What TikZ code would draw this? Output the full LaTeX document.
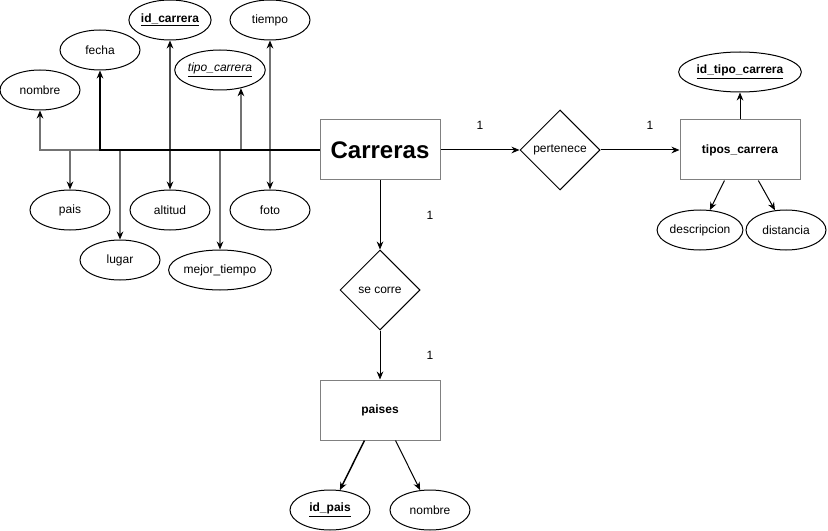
\documentclass[tikz,border=0pt]{standalone}
\usepackage{fontspec}
\setmainfont{Liberation Sans}
\usetikzlibrary{arrows.meta,positioning,shapes.geometric}

\begin{document}
\fontsize{9}{11}\selectfont
\begin{tikzpicture}[x=0.75pt, y=-0.75pt, >={Stealth[length=6pt, width=5pt, color=black]},
    attr/.style={ellipse, draw, line width=0.75pt, minimum width=60pt, minimum height=30pt, inner sep=0pt},
    entity/.style={rectangle, draw=gray, line width=0.75pt, minimum width=90pt, minimum height=45pt},
    rel/.style={diamond, draw, line width=0.75pt, minimum width=60pt, minimum height=60pt, inner sep=0pt},
    link/.style={draw=black!55, line width=0.9pt, ->},
    trunk/.style={draw=black, line width=1.5pt, ->},
    conn/.style={draw=black, line width=0.75pt, ->}]
    \useasboundingbox (0,0) rectangle (828,531);

    % entities and relations
    \node(carr) [entity, font=\bfseries\fontsize{18}{20}\selectfont] at (380,150) {Carreras};
    \node(tipos) [entity] at (740,150) {\textbf{tipos\_carrera}};
    \node(paises) [entity] at (380,410) {\textbf{paises}};
    \node(pert) [rel] at (560,150) {pertenece};
    \node(secorre) [rel] at (380,290) {se corre};

    % attributes of Carreras
    \node(nom) [attr] at (40,90) {nombre};
    \node(fecha) [attr] at (100,50) {fecha};
    \node(idc) [attr] at (170,20) {\underline{\textbf{id\_carrera}}};
    \node(tiem) [attr] at (270,20) {tiempo};
    \node(tipo) [attr] at (220,70) {\underline{\textit{tipo\_carrera}}};
    \node(pais) [attr] at (70,210) {pais};
    \node(lugar) [attr] at (120,260) {lugar};
    \node(alt) [attr] at (170,210) {altitud};
    \node(mejor) [attr] at (220,270) {mejor\_tiempo};
    \node(foto) [attr] at (270,210) {foto};

    % attributes of tipos_carrera and paises
    \node(idt) [attr, minimum width=75pt] at (740,72) {\underline{\textbf{id\_tipo\_carrera}}};
    \node(desc) [attr] at (700,230) {descripcion};
    \node(dist) [attr] at (786,230) {distancia};
    \node(idp) [attr] at (330,510) {\underline{\textbf{id\_pais}}};
    \node(nom2) [attr] at (430,510) {nombre};

    % cardinalities
    \node(card1) at (480,125) {1};
    \node(card2) at (650,125) {1};
    \node(card3) at (430,215) {1};
    \node(card4) at (430,355) {1};

    \draw[link] (carr -| fecha) -- (carr -| nom) -- (nom);
    \draw[link] (carr -| pais) -- (pais);
    \draw[link] (carr -| lugar) -- (lugar);
    \draw[link] (carr -| mejor) -- (mejor);
    \draw[link] (carr -| tipo.-41) -- (tipo.-41);
    \draw[link, draw=black!70, <->] (idc) -- (alt);
    \draw[link, <->] (tiem) -- (foto);
    \draw[trunk] (carr.west) -- (carr -| fecha) -- (fecha);

    \draw[conn] (carr) -- (pert);
    \draw[conn] (pert) -- (tipos);
    \draw[conn] (tipos) -- (idt);
    \draw[conn] (tipos.243) -- (desc);
    \draw[conn] (tipos.301) -- (dist);
    \draw[conn] (carr) -- (secorre);
    \draw[conn] (secorre) -- (paises);
    \draw[conn, line width=1.1pt] (paises.243) -- (idp);
    \draw[conn] (paises.297) -- (nom2);
\end{tikzpicture}
\end{document}
